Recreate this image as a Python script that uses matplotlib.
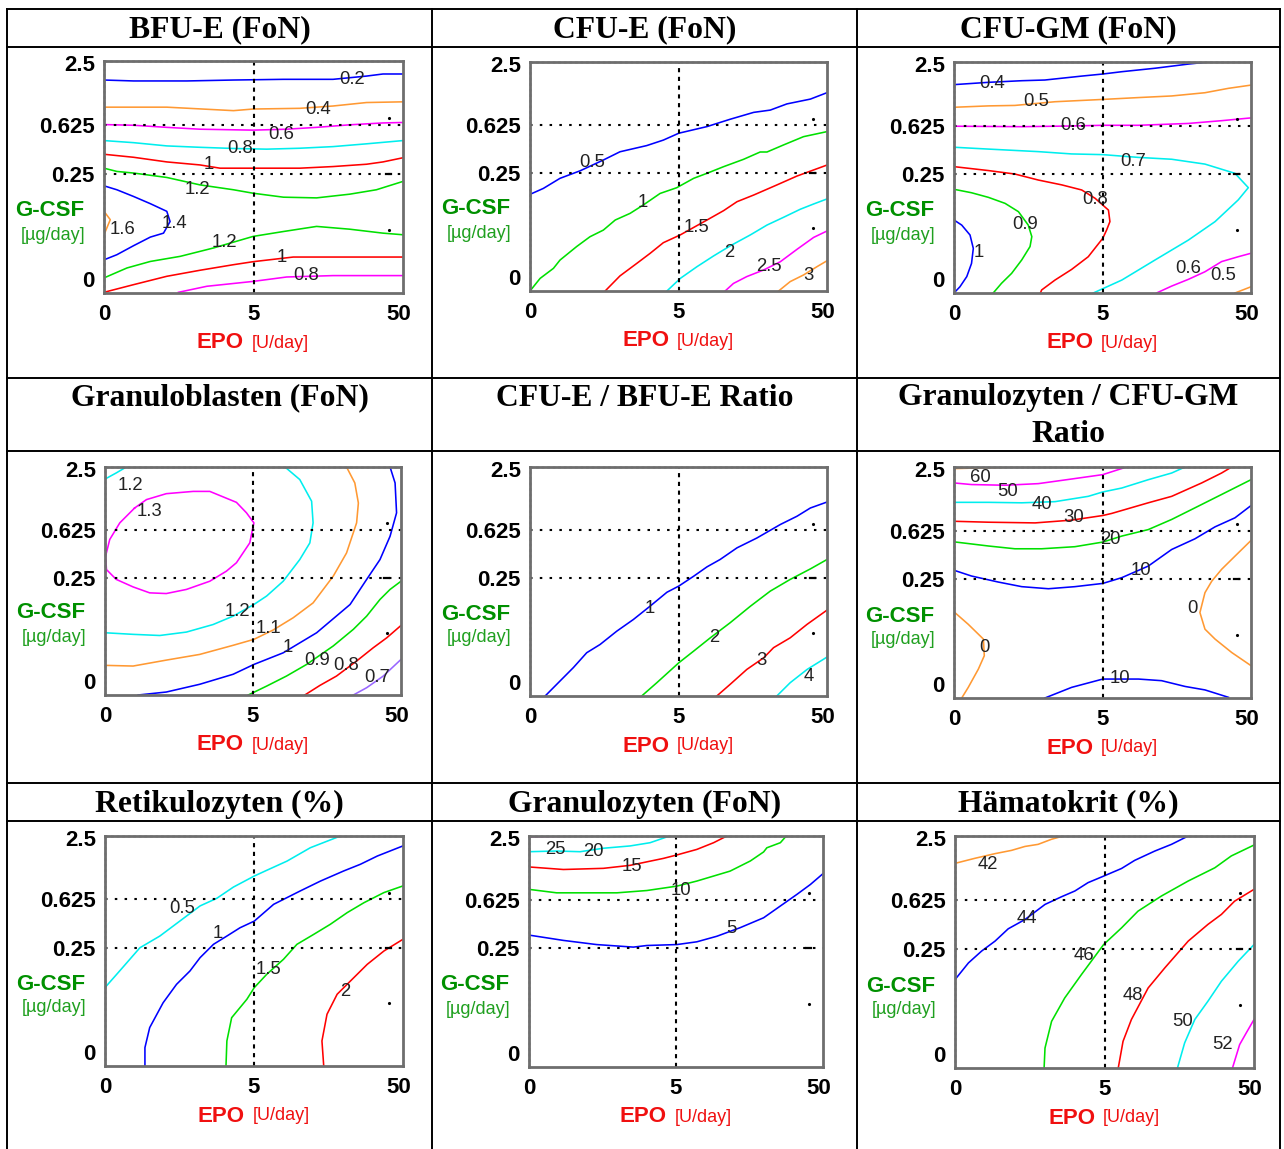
import matplotlib.pyplot as plt
import matplotlib as mpl

mpl.rcParams['font.family'] = ['Liberation Sans', 'DejaVu Sans']

W, H = 1284, 1149   # size of the picture in pixels

# contour lines, x and y as fractions of each plot box
# (x: 0 / 5 / 50 U EPO per day, y: 0 / 0.25 / 0.625 / 2.5 ug G-CSF per day)

# --- BFU-E (FoN)
bfue_lvl = [0.2, 0.4, 0.6, 0.8, 1, 1.2, 1.4, 1.6, 1.2, 1, 0.8]
bfue_x = [
    [0.0, 0.099, 0.277, 0.433, 0.600, 0.766, 0.878, 0.933, 1.0],
    [0.0, 0.210, 0.433, 0.499, 0.655, 0.766, 0.878, 1.0],
    [0.0, 0.099, 0.210, 0.321, 0.499, 0.611, 0.711, 0.822, 0.933, 1.0],
    [0.0, 0.099, 0.210, 0.321, 0.433, 0.544, 0.655, 0.766, 0.878, 1.0],
    [0.0, 0.099, 0.210, 0.321, 0.388, 0.499, 0.655, 0.766, 0.878, 0.933, 1.0],
    [0.0, 0.043, 0.099, 0.210, 0.321, 0.433, 0.499, 0.600, 0.711, 0.822, 0.911, 1.0],
    [0.0, 0.043, 0.099, 0.155, 0.210, 0.221, 0.199, 0.155, 0.099, 0.043, 0.0],
    [0.0, 0.021, 0.0],
    [0.0, 0.077, 0.155, 0.255, 0.366, 0.499, 0.600, 0.711, 0.822, 0.933, 1.0],
    [0.0, 0.099, 0.210, 0.321, 0.433, 0.499, 0.633, 0.766, 1.0],
    [0.249, 0.344, 0.499, 0.611, 0.766, 1.0],
]
bfue_y = [
    [0.918, 0.914, 0.914, 0.918, 0.921, 0.921, 0.935, 0.944, 0.944],
    [0.801, 0.801, 0.786, 0.793, 0.796, 0.806, 0.821, 0.824],
    [0.726, 0.723, 0.714, 0.706, 0.702, 0.706, 0.714, 0.725, 0.733, 0.735],
    [0.657, 0.648, 0.634, 0.628, 0.623, 0.620, 0.624, 0.631, 0.643, 0.657],
    [0.598, 0.585, 0.565, 0.552, 0.538, 0.538, 0.538, 0.545, 0.555, 0.565, 0.583],
    [0.538, 0.524, 0.517, 0.498, 0.466, 0.445, 0.430, 0.413, 0.410, 0.426, 0.445, 0.481],
    [0.462, 0.445, 0.416, 0.385, 0.352, 0.308, 0.258, 0.241, 0.204, 0.165, 0.143],
    [0.352, 0.316, 0.251],
    [0.065, 0.108, 0.136, 0.158, 0.194, 0.244, 0.265, 0.287, 0.275, 0.258, 0.251],
    [0.003, 0.036, 0.072, 0.098, 0.122, 0.135, 0.155, 0.155, 0.155],
    [0.003, 0.029, 0.050, 0.069, 0.075, 0.075],
]

# --- CFU-E (FoN)
cfue_lvl = [0.5, 1, 1.5, 2, 2.5, 3]
cfue_x = [
    [0.0, 0.045, 0.101, 0.169, 0.247, 0.303, 0.393, 0.449, 0.501, 0.596, 0.674, 0.753, 0.809, 0.865, 0.944, 1.0],
    [0.0, 0.034, 0.079, 0.101, 0.157, 0.202, 0.247, 0.287, 0.337, 0.382, 0.438, 0.494, 0.551, 0.596, 0.652, 0.719,
     0.775, 0.798, 0.854, 0.921, 1.0],
    [0.253, 0.303, 0.360, 0.404, 0.449, 0.506, 0.596, 0.652, 0.697, 0.753, 0.831, 0.899, 1.0],
    [0.461, 0.506, 0.562, 0.618, 0.674, 0.742, 0.798, 0.854, 0.910, 0.955, 1.0],
    [0.657, 0.685, 0.730, 0.787, 0.843, 0.899, 0.955, 1.0],
    [0.837, 0.876, 0.921, 0.966, 1.0],
]
cfue_y = [
    [0.422, 0.448, 0.492, 0.525, 0.572, 0.608, 0.635, 0.659, 0.689, 0.718, 0.750, 0.780, 0.790, 0.817, 0.838, 0.866],
    [0.0, 0.055, 0.099, 0.135, 0.194, 0.237, 0.266, 0.310, 0.339, 0.376, 0.426, 0.451, 0.492, 0.514, 0.543, 0.575,
     0.607, 0.607, 0.638, 0.674, 0.696],
    [0.0, 0.066, 0.121, 0.164, 0.211, 0.245, 0.310, 0.351, 0.390, 0.419, 0.463, 0.502, 0.550],
    [0.0, 0.055, 0.106, 0.153, 0.197, 0.245, 0.288, 0.322, 0.357, 0.380, 0.402],
    [0.0, 0.033, 0.063, 0.092, 0.128, 0.182, 0.234, 0.262],
    [0.0, 0.041, 0.070, 0.106, 0.132],
]

# --- CFU-GM (FoN)
cfugm_lvl = [0.4, 0.5, 0.6, 0.7, 0.8, 0.9, 1, 0.6, 0.5]
cfugm_x = [
    [0.0, 0.116, 0.228, 0.306, 0.430, 0.501, 0.565, 0.677, 0.789, 0.856],
    [0.0, 0.116, 0.205, 0.340, 0.501, 0.621, 0.733, 0.845, 0.924, 1.0],
    [0.0, 0.228, 0.396, 0.501, 0.621, 0.789, 0.901, 1.0],
    [0.0, 0.116, 0.284, 0.396, 0.501, 0.621, 0.733, 0.845, 0.946, 0.991, 0.957, 0.879, 0.789, 0.677, 0.565, 0.469],
    [0.0, 0.116, 0.205, 0.284, 0.363, 0.430, 0.475, 0.520, 0.525, 0.514, 0.501, 0.452, 0.396, 0.340, 0.295, 0.291],
    [0.0, 0.059, 0.116, 0.172, 0.217, 0.250, 0.262, 0.256, 0.228, 0.194, 0.160, 0.132],
    [0.0, 0.026, 0.054, 0.065, 0.059, 0.043, 0.020, 0.0],
    [0.682, 0.733, 0.789, 0.845, 0.901, 0.957, 1.0],
    [0.946, 1.0],
]
cfugm_y = [
    [0.902, 0.912, 0.919, 0.922, 0.939, 0.948, 0.958, 0.973, 0.991, 1.0],
    [0.804, 0.810, 0.812, 0.828, 0.838, 0.846, 0.853, 0.867, 0.886, 0.900],
    [0.722, 0.720, 0.723, 0.726, 0.726, 0.734, 0.746, 0.758],
    [0.631, 0.623, 0.612, 0.602, 0.599, 0.587, 0.579, 0.558, 0.518, 0.456, 0.403, 0.309, 0.229, 0.143, 0.056, 0.0],
    [0.547, 0.530, 0.515, 0.489, 0.468, 0.446, 0.410, 0.359, 0.309, 0.273, 0.237, 0.157, 0.102, 0.056, 0.013, 0.0],
    [0.449, 0.434, 0.414, 0.388, 0.352, 0.294, 0.244, 0.201, 0.143, 0.085, 0.042, 0.0],
    [0.316, 0.294, 0.251, 0.193, 0.128, 0.071, 0.027, 0.0],
    [0.0, 0.030, 0.059, 0.092, 0.136, 0.157, 0.172],
    [0.0, 0.027],
]

# --- Granuloblasten (FoN)
gblast_lvl = [1.2, 1.3, 1.2, 1.1, 1, 0.9, 0.8, 0.7]
gblast_x = [
    [0.0, 0.038, 0.072],
    [0.100, 0.140, 0.207, 0.298, 0.354, 0.444, 0.478, 0.503, 0.489, 0.444, 0.410, 0.354, 0.275, 0.207, 0.151,
     0.095, 0.038, 0.005, 0.002, 0.016, 0.050, 0.100],
    [0.608, 0.658, 0.698, 0.703, 0.692, 0.658, 0.602, 0.546, 0.503, 0.433, 0.365, 0.275, 0.185, 0.095, 0.0],
    [0.816, 0.844, 0.856, 0.850, 0.816, 0.771, 0.703, 0.636, 0.568, 0.503, 0.433, 0.320, 0.207, 0.095, 0.0],
    [0.963, 0.980, 0.985, 0.963, 0.929, 0.884, 0.828, 0.715, 0.602, 0.503, 0.433, 0.320, 0.207, 0.112],
    [0.484, 0.546, 0.613, 0.681, 0.771, 0.839, 0.884, 0.929, 0.963, 1.0],
    [0.675, 0.726, 0.782, 0.850, 0.906, 0.952, 1.0],
    [0.839, 0.884, 0.940, 1.0],
]
gblast_y = [
    [0.947, 0.974, 1.0],
    [0.820, 0.857, 0.883, 0.893, 0.893, 0.845, 0.799, 0.755, 0.667, 0.580, 0.543, 0.499, 0.463, 0.445, 0.448,
     0.474, 0.507, 0.550, 0.609, 0.682, 0.755, 0.820],
    [1.0, 0.945, 0.850, 0.755, 0.667, 0.594, 0.499, 0.434, 0.397, 0.346, 0.309, 0.276, 0.261, 0.266, 0.273],
    [1.0, 0.930, 0.842, 0.755, 0.623, 0.521, 0.404, 0.339, 0.285, 0.244, 0.218, 0.178, 0.153, 0.127, 0.130],
    [1.0, 0.930, 0.799, 0.696, 0.594, 0.507, 0.397, 0.273, 0.185, 0.134, 0.091, 0.047, 0.013, 0.0],
    [0.0, 0.039, 0.083, 0.134, 0.215, 0.288, 0.346, 0.419, 0.463, 0.499],
    [0.0, 0.042, 0.083, 0.149, 0.207, 0.251, 0.305],
    [0.0, 0.032, 0.083, 0.156],
]

# --- CFU-E / BFU-E ratio
eratio_lvl = [1, 2, 3, 4]
eratio_x = [
    [0.051, 0.090, 0.146, 0.191, 0.236, 0.292, 0.348, 0.404, 0.461, 0.501, 0.551, 0.596, 0.640, 0.697, 0.764,
     0.843, 0.899, 0.944, 1.0],
    [0.376, 0.427, 0.501, 0.551, 0.607, 0.674, 0.742, 0.809, 0.876, 0.944, 1.0],
    [0.629, 0.674, 0.730, 0.787, 0.820, 0.876, 0.933, 1.0],
    [0.831, 0.876, 0.933, 1.0],
]
eratio_y = [
    [0.0, 0.051, 0.124, 0.189, 0.225, 0.283, 0.334, 0.392, 0.453, 0.480, 0.523, 0.564, 0.596, 0.647, 0.690,
     0.749, 0.785, 0.821, 0.847],
    [0.0, 0.058, 0.145, 0.196, 0.254, 0.320, 0.392, 0.458, 0.509, 0.555, 0.596],
    [0.0, 0.051, 0.116, 0.167, 0.211, 0.254, 0.313, 0.375],
    [0.0, 0.058, 0.116, 0.170],
]

# --- Granulozyten / CFU-GM ratio
gratio_lvl = [60, 50, 40, 30, 20, 10, 0, 0, 10]
gratio_x = [
    [0.0, 0.205],
    [0.0, 0.059, 0.172, 0.284, 0.396, 0.501, 0.581],
    [0.0, 0.116, 0.228, 0.340, 0.452, 0.501, 0.565, 0.654, 0.733, 0.778],
    [0.0, 0.116, 0.273, 0.396, 0.501, 0.531, 0.654, 0.733, 0.834, 0.901, 0.935],
    [0.0, 0.116, 0.205, 0.295, 0.407, 0.501, 0.565, 0.654, 0.733, 0.811, 0.901, 1.0],
    [0.0, 0.059, 0.149, 0.228, 0.318, 0.407, 0.501, 0.565, 0.654, 0.733, 0.811, 0.879, 0.946, 1.0],
    [0.0, 0.048, 0.099, 0.102, 0.082, 0.048, 0.026],
    [1.0, 0.946, 0.901, 0.868, 0.845, 0.828, 0.845, 0.879, 0.935, 1.0],
    [0.306, 0.396, 0.501, 0.621, 0.699, 0.778, 0.845, 0.924],
]
gratio_y = [
    [0.993, 1.0],
    [0.931, 0.924, 0.921, 0.928, 0.948, 0.967, 1.0],
    [0.847, 0.847, 0.845, 0.850, 0.873, 0.892, 0.909, 0.945, 0.974, 1.0],
    [0.765, 0.761, 0.758, 0.770, 0.790, 0.799, 0.845, 0.873, 0.931, 0.974, 1.0],
    [0.676, 0.658, 0.646, 0.646, 0.655, 0.675, 0.701, 0.729, 0.773, 0.823, 0.881, 0.945],
    [0.553, 0.528, 0.502, 0.482, 0.473, 0.482, 0.496, 0.521, 0.571, 0.643, 0.689, 0.741, 0.780, 0.833],
    [0.373, 0.319, 0.255, 0.183, 0.125, 0.046, 0.0],
    [0.682, 0.614, 0.557, 0.506, 0.456, 0.370, 0.298, 0.255, 0.197, 0.140],
    [0.0, 0.046, 0.082, 0.082, 0.075, 0.050, 0.035, 0.003],
]

# --- Retikulozyten (%)
retik_lvl = [0.5, 1, 1.5, 2]
retik_x = [
    [0.0, 0.049, 0.117, 0.184, 0.251, 0.319, 0.375, 0.431, 0.501, 0.543, 0.611, 0.689, 0.790],
    [0.134, 0.134, 0.150, 0.195, 0.240, 0.285, 0.319, 0.364, 0.409, 0.453, 0.501, 0.566, 0.655, 0.723, 0.801,
     0.857, 0.914, 1.0],
    [0.406, 0.409, 0.425, 0.476, 0.501, 0.543, 0.599, 0.644, 0.700, 0.756, 0.813, 0.869, 0.936, 1.0],
    [0.734, 0.728, 0.745, 0.779, 0.824, 0.880, 0.936, 1.0],
]
retik_y = [
    [0.341, 0.413, 0.514, 0.565, 0.630, 0.696, 0.729, 0.778, 0.826, 0.851, 0.891, 0.949, 1.0],
    [0.0, 0.080, 0.167, 0.275, 0.355, 0.413, 0.471, 0.529, 0.565, 0.601, 0.630, 0.703, 0.761, 0.804, 0.848,
     0.877, 0.913, 0.957],
    [0.0, 0.109, 0.210, 0.290, 0.341, 0.399, 0.464, 0.529, 0.572, 0.616, 0.667, 0.710, 0.754, 0.783],
    [0.0, 0.109, 0.225, 0.312, 0.370, 0.442, 0.500, 0.551],
]

# --- Granulozyten (FoN)
granu_lvl = [25, 20, 15, 10, 5]
granu_x = [
    [0.0, 0.196],
    [0.0, 0.094, 0.174, 0.253, 0.344, 0.412, 0.478],
    [0.0, 0.117, 0.253, 0.344, 0.457, 0.503, 0.571, 0.628, 0.673],
    [0.0, 0.094, 0.299, 0.401, 0.503, 0.571, 0.684, 0.753, 0.798, 0.809, 0.855, 0.875],
    [0.0, 0.117, 0.230, 0.355, 0.401, 0.503, 0.571, 0.639, 0.718, 0.798, 0.855, 0.911, 0.957, 1.0],
]
granu_y = [
    [0.997, 1.0],
    [0.932, 0.935, 0.932, 0.947, 0.957, 0.971, 1.0],
    [0.866, 0.855, 0.860, 0.873, 0.903, 0.918, 0.942, 0.971, 1.0],
    [0.769, 0.754, 0.754, 0.764, 0.783, 0.805, 0.848, 0.892, 0.931, 0.949, 0.971, 1.0],
    [0.571, 0.548, 0.530, 0.519, 0.526, 0.530, 0.542, 0.566, 0.603, 0.646, 0.697, 0.747, 0.790, 0.837],
]

# --- Haematokrit (%)
haema_lvl = [42, 44, 46, 48, 50, 52]
haema_x = [
    [0.0, 0.067, 0.134, 0.189, 0.234, 0.278, 0.323, 0.362],
    [0.0, 0.045, 0.089, 0.134, 0.178, 0.234, 0.301, 0.356, 0.401, 0.445, 0.497, 0.557, 0.601, 0.668, 0.724, 0.780],
    [0.298, 0.301, 0.323, 0.367, 0.423, 0.497, 0.557, 0.612, 0.690, 0.780, 0.869, 0.924, 1.0],
    [0.546, 0.562, 0.590, 0.646, 0.702, 0.780, 0.846, 0.891, 0.935, 1.0],
    [0.744, 0.768, 0.802, 0.846, 0.891, 0.947, 1.0],
    [0.928, 0.952, 0.974, 1.0],
]
haema_y = [
    [0.882, 0.904, 0.924, 0.938, 0.955, 0.964, 0.986, 1.0],
    [0.381, 0.453, 0.504, 0.547, 0.600, 0.640, 0.705, 0.738, 0.763, 0.799, 0.827, 0.860, 0.895, 0.935, 0.964, 1.0],
    [0.0, 0.086, 0.201, 0.302, 0.403, 0.532, 0.604, 0.676, 0.741, 0.806, 0.863, 0.914, 0.961],
    [0.0, 0.115, 0.209, 0.345, 0.432, 0.547, 0.619, 0.662, 0.719, 0.770],
    [0.0, 0.108, 0.209, 0.288, 0.374, 0.460, 0.532],
    [0.0, 0.101, 0.151, 0.209],
]

titles = ['BFU-E (FoN)', 'CFU-E (FoN)', 'CFU-GM (FoN)',
          'Granuloblasten (FoN)', 'CFU-E / BFU-E Ratio', 'Granulozyten / CFU-GM\nRatio',
          'Retikulozyten (%)', 'Granulozyten (FoN)', 'Hämatokrit (%)']
x_ticks = ['0', '5', '50']
y_ticks = ['0', '0.25', '0.625', '2.5']

# ---------------- styles and layout ----------------
B, O, M, C, R, G, P = '#0000ff', '#ff9933', '#ff00ff', '#00eeee', '#ff0000', '#00e000', '#9966ff'

styles = [
    ([B, O, M, C, R, G, B, O, G, R, M],
     [(0.828, 0.922), (0.716, 0.793), (0.591, 0.683), (0.455, 0.623), (0.349, 0.552), (0.313, 0.445),
      (0.235, 0.298), (0.062, 0.275), (0.402, 0.218), (0.594, 0.154), (0.677, 0.075)]),
    ([B, G, R, C, M, O],
     [(0.211, 0.562), (0.379, 0.387), (0.560, 0.277), (0.672, 0.169), (0.803, 0.106), (0.936, 0.066)]),
    ([B, O, M, C, R, G, B, M, O],
     [(0.130, 0.905), (0.276, 0.828), (0.400, 0.724), (0.604, 0.571), (0.475, 0.403), (0.241, 0.297),
      (0.084, 0.176), (0.789, 0.105), (0.905, 0.074)]),
    ([C, M, C, O, B, G, R, P],
     [(0.087, 0.920), (0.151, 0.806), (0.446, 0.368), (0.551, 0.292), (0.619, 0.210), (0.715, 0.153),
      (0.816, 0.130), (0.921, 0.076)]),
    ([B, G, R, C],
     [(0.404, 0.382), (0.620, 0.257), (0.779, 0.157), (0.938, 0.083)]),
    ([O, M, C, R, G, B, O, O, B],
     [(0.088, 0.953), (0.181, 0.895), (0.297, 0.837), (0.404, 0.780), (0.526, 0.686), (0.629, 0.554),
      (0.104, 0.219), (0.802, 0.388), (0.559, 0.085)]),
    ([C, B, G, R],
     [(0.260, 0.686), (0.380, 0.575), (0.549, 0.420), (0.805, 0.322)]),
    ([M, C, R, G, B],
     [(0.089, 0.942), (0.219, 0.931), (0.350, 0.870), (0.516, 0.762), (0.690, 0.598)]),
    ([O, B, G, R, C, M],
     [(0.111, 0.878), (0.239, 0.643), (0.432, 0.485), (0.596, 0.314), (0.761, 0.201), (0.896, 0.101)]),
]

data = [(bfue_lvl, bfue_x, bfue_y), (cfue_lvl, cfue_x, cfue_y), (cfugm_lvl, cfugm_x, cfugm_y),
        (gblast_lvl, gblast_x, gblast_y), (eratio_lvl, eratio_x, eratio_y), (gratio_lvl, gratio_x, gratio_y),
        (retik_lvl, retik_x, retik_y), (granu_lvl, granu_x, granu_y), (haema_lvl, haema_x, haema_y)]

# plot boxes in pixels: left, top, right, bottom
boxes = [(104, 61, 403, 293), (530, 62, 827, 291), (954, 62, 1251, 293),
         (105, 467, 401, 695), (530, 467, 827, 696), (954, 467, 1251, 698),
         (105, 836, 403, 1066), (529, 836, 823, 1067), (955, 836, 1254, 1068)]

col_edges = [7, 432, 857, 1280]
title_y = [[30], [398, 434], [804]]

fig = plt.figure(figsize=(W / 100, H / 100), dpi=100)
bg = fig.add_axes([0, 0, 1, 1])
bg.set_xlim(0, W)
bg.set_ylim(H, 0)
bg.axis('off')

# table grid
for yy in [9, 47, 378, 451, 783, 821]:
    bg.plot([col_edges[0], col_edges[-1]], [yy, yy], color='k', lw=1.4)
for xx in col_edges:
    bg.plot([xx, xx], [9, H], color='k', lw=1.4)

serif = dict(family='Liberation Serif', weight='bold', fontsize=22.8, ha='center', va='center')

for i, (title, (lvls, xs, ys), (cols, labs), box) in enumerate(zip(titles, data, styles, boxes)):
    row, col = divmod(i, 3)
    cx = (col_edges[col] + col_edges[col + 1]) / 2
    for ty, line in zip(title_y[row], title.split('\n')):
        bg.text(cx, ty, line, **serif)

    l, t, r, b = box
    ax = fig.add_axes([l / W, 1 - b / H, (r - l) / W, (b - t) / H])
    for lv, x, y, c, (lx, ly) in zip(lvls, xs, ys, cols, labs):
        ax.plot(x, y, color=c, lw=1.15)
        ax.text(lx, ly, f'{lv:g}', ha='center', va='center', fontsize=13.3, color='#222222')
    for yy in [0.514, 0.724]:
        ax.axhline(yy, color='k', lw=1.5, ls=(0, (1.2, 3.5)))
    ax.axvline(0.5, color='k', lw=1.5, ls=(0, (2.0, 2.2)))
    # little marks near the right edge of every box
    ax.plot([0.952, 0.952], [0.753, 0.273], 'k.', ms=2.5)
    ax.plot([0.943, 0.96], [0.514, 0.514], color='k', lw=1.6)
    ax.set_xlim(0, 1)
    ax.set_ylim(0, 1)
    ax.set_xticks([0, 0.5, 0.984], x_ticks)
    ax.set_yticks([0.06, 0.514, 0.724, 0.99], y_ticks)
    ax.tick_params(length=0, labelsize=16, pad=6.5)
    ax.tick_params(axis='x', pad=8)
    for lab in ax.get_xticklabels() + ax.get_yticklabels():
        lab.set_fontweight('bold')
    for sp in ax.spines.values():
        sp.set_color('#6e6e6e')
        sp.set_linewidth(2.0)
    # dashed black over the grey frame on top and left
    ax.plot([0, 1], [1, 1], color='k', lw=1.0, ls=(0, (2, 2)), clip_on=False, transform=ax.transAxes)
    ax.plot([0, 0], [0, 1], color='k', lw=1.0, ls=(0, (2, 2)), clip_on=False, transform=ax.transAxes)

    # axis titles
    bg.text(l - 54, b - 82, 'G-CSF', color='#009000', fontsize=16, weight='bold', ha='center', va='center')
    bg.text(l - 51, b - 58, '[µg/day]', color='#20a020', fontsize=13, ha='center', va='center')
    cxa = (l + r) / 2
    bg.text(cxa - 9.5, b + 50, 'EPO', color='#f01010', fontsize=16, weight='bold', ha='right', va='center')
    bg.text(cxa - 1.5, b + 50, '[U/day]', color='#f01010', fontsize=13, ha='left', va='center')

fig.savefig('out.png', dpi=100)
